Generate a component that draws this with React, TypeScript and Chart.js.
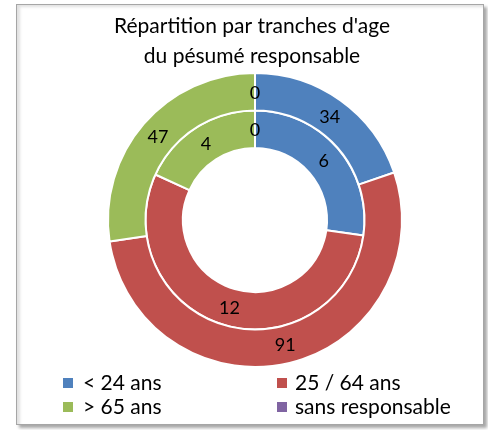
import React, { useEffect, useRef } from 'react';
import { Chart, registerables } from 'chart.js';

Chart.register(...registerables);

const categories = ['< 24 ans', '25 / 64 ans', '> 65 ans', 'sans responsable'];
const outerValues = [34, 91, 47, 0];
const innerValues = [6, 12, 4, 0];
const titleLines = ["Répartition par tranches d'age", 'du pésumé responsable'];
const sliceColors = ['#4F81BD', '#C0504D', '#9BBB59', '#8064A2'];

const FONT = 'Lato, "Liberation Sans", sans-serif';

const overlayPlugin = {
  id: 'overlay',
  afterDatasetsDraw(chart: any) {
    const ctx = chart.ctx as CanvasRenderingContext2D;
    ctx.save();
    // data labels
    ctx.fillStyle = '#000';
    ctx.font = `18px ${FONT}`;
    ctx.textAlign = 'center';
    ctx.textBaseline = 'middle';
    chart.data.datasets.forEach((ds: any, di: number) => {
      const meta = chart.getDatasetMeta(di);
      meta.data.forEach((arc: any, i: number) => {
        const p = arc.tooltipPosition(false);
        ctx.fillText(String(ds.data[i]), p.x, p.y + 1);
      });
    });
    // title
    const w = chart.width;
    ctx.font = `21px ${FONT}`;
    ctx.textBaseline = 'alphabetic';
    ctx.fillText(titleLines[0], w / 2 + 2, 28);
    ctx.fillText(titleLines[1], w / 2 + 2, 58);
    // legend
    ctx.font = `21px ${FONT}`;
    ctx.textAlign = 'left';
    const boxX = [46, 260];
    const textX = [66, 278];
    const rows = [385, 409];
    categories.forEach((c, i) => {
      const col = i % 2;
      const y = rows[Math.floor(i / 2)];
      ctx.fillStyle = sliceColors[i];
      ctx.fillRect(boxX[col], y - 12, 10, 10);
      ctx.fillStyle = '#000';
      ctx.fillText(c, textX[col], y);
    });
    ctx.restore();
  },
};

export default function App() {
  const ref = useRef<HTMLCanvasElement>(null);
  useEffect(() => {
    if (!ref.current) return;
    const chart = new Chart(ref.current, {
      type: 'doughnut',
      data: {
        labels: categories,
        datasets: [
          { data: outerValues, backgroundColor: sliceColors, borderColor: '#fff', borderWidth: 2 },
          { data: innerValues, backgroundColor: sliceColors, borderColor: '#fff', borderWidth: 2 },
        ],
      },
      options: {
        responsive: false,
        animation: false,
        cutout: '49%',
        layout: { padding: { left: 90, top: 67, right: 80, bottom: 56 } },
        plugins: {
          legend: { display: false },
          title: { display: false },
          tooltip: { enabled: false },
        },
      },
      plugins: [overlayPlugin],
    });
    return () => chart.destroy();
  }, []);
  return (
    <div
      style={{
        position: 'absolute',
        left: 16,
        top: 4,
        width: 468,
        height: 421,
        boxSizing: 'border-box',
        border: '1px solid #a6a6a6',
        background: '#fff',
        boxShadow: 'inset 3px 2px 3px rgba(0,0,0,0.12), 3px 3px 3px rgba(0,0,0,0.35)',
      }}
    >
      <canvas ref={ref} width={466} height={419} style={{ display: 'block' }} />
    </div>
  );
}
